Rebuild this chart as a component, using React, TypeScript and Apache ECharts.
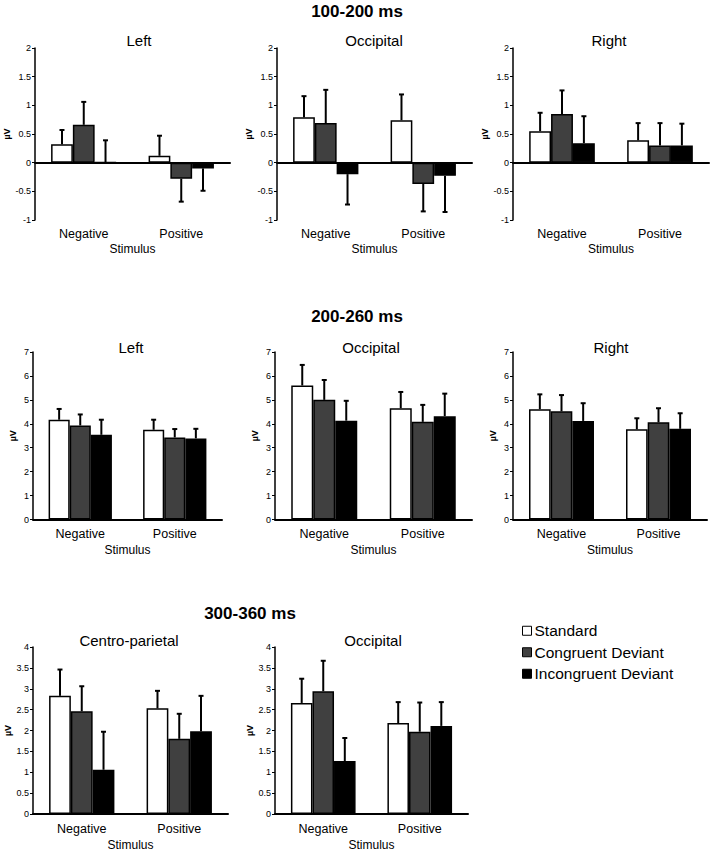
import React, { useEffect, useRef } from 'react';
import * as echarts from 'echarts';

// ---------- data ----------
const categories = ['Negative', 'Positive'];
const conditionNames = ['Standard', 'Congruent Deviant', 'Incongruent Deviant'];
const windowTitles = ['100-200 ms', '200-260 ms', '300-360 ms'];
const panelTitles = ['Left', 'Occipital', 'Right', 'Left', 'Occipital', 'Right', 'Centro-parietal', 'Occipital'];
const xAxisName = 'Stimulus';
const yAxisName = 'µV';

// y scales (min, max, interval) for each time window
const yScale100 = [-1, 2, 0.5];
const yScale200 = [0, 7, 1];
const yScale300 = [0, 4, 0.5];

// means [condition][category] and one-sided error bars (same layout)
const left100Means = [[0.32, 0.12], [0.66, -0.28], [0.01, -0.10]];
const left100Errors = [[0.25, 0.35], [0.40, 0.40], [0.38, 0.39]];
const occ100Means = [[0.79, 0.74], [0.69, -0.37], [-0.20, -0.23]];
const occ100Errors = [[0.37, 0.45], [0.58, 0.48], [0.53, 0.63]];
const right100Means = [[0.55, 0.39], [0.85, 0.30], [0.34, 0.30]];
const right100Errors = [[0.32, 0.30], [0.41, 0.39], [0.47, 0.38]];

const left200Means = [[4.17, 3.75], [3.93, 3.43], [3.54, 3.39]];
const left200Errors = [[0.45, 0.42], [0.46, 0.35], [0.63, 0.40]];
const occ200Means = [[5.60, 4.65], [5.00, 4.08], [4.13, 4.32]];
const occ200Errors = [[0.86, 0.68], [0.83, 0.71], [0.83, 0.94]];
const right200Means = [[4.61, 3.77], [4.52, 4.06], [4.12, 3.79]];
const right200Errors = [[0.62, 0.46], [0.68, 0.59], [0.74, 0.65]];

const cp300Means = [[2.83, 2.53], [2.46, 1.80], [1.06, 1.98]];
const cp300Errors = [[0.63, 0.42], [0.60, 0.60], [0.91, 0.85]];
const occ300Means = [[2.66, 2.18], [2.94, 1.97], [1.27, 2.11]];
const occ300Errors = [[0.58, 0.50], [0.73, 0.70], [0.55, 0.57]];

// ---------- styles / layout ----------
const FONT = '"Liberation Sans", Arial, Helvetica, sans-serif';
const conditionColors = ['#ffffff', '#404040', '#000000'];
const GAP_RATIO = 0.33;

const panelData = [
  { means: left100Means, errors: left100Errors, scale: yScale100 },
  { means: occ100Means, errors: occ100Errors, scale: yScale100 },
  { means: right100Means, errors: right100Errors, scale: yScale100 },
  { means: left200Means, errors: left200Errors, scale: yScale200 },
  { means: occ200Means, errors: occ200Errors, scale: yScale200 },
  { means: right200Means, errors: right200Errors, scale: yScale200 },
  { means: cp300Means, errors: cp300Errors, scale: yScale300 },
  { means: occ300Means, errors: occ300Errors, scale: yScale300 },
];

const panelLayout = [
  { left: 35, top: 48, width: 195, height: 172, title: [139, 40], nameGapY: 23, labelMargin: 7, nameGapX: 23 },
  { left: 277, top: 48, width: 195, height: 172, title: [374, 40], nameGapY: 23, labelMargin: 7, nameGapX: 23 },
  { left: 513, top: 48, width: 196, height: 172, title: [609, 40], nameGapY: 23, labelMargin: 7, nameGapX: 23 },
  { left: 33, top: 352, width: 189, height: 167.5, title: [131, 347], nameGapY: 16, labelMargin: 8, nameGapX: 24 },
  { left: 275, top: 352, width: 197, height: 167.5, title: [371, 347], nameGapY: 16, labelMargin: 8, nameGapX: 24 },
  { left: 513, top: 352, width: 194, height: 167.5, title: [611, 347], nameGapY: 16, labelMargin: 8, nameGapX: 24 },
  { left: 33, top: 647, width: 195, height: 167, title: [129, 640], nameGapY: 19, labelMargin: 8, nameGapX: 25 },
  { left: 275, top: 647, width: 193, height: 167, title: [373, 640], nameGapY: 19, labelMargin: 8, nameGapX: 25 },
];

const windowTitlePos = [[357, 11], [357, 316], [250, 613]];

function makeErrorRenderer(idx: number, nBars: number) {
  return (params: any, api: any) => {
    const cat = api.value(0);
    const v = api.value(1);
    const e = api.value(2);
    const band = api.size([1, 0])[0];
    const total = band * (1 - GAP_RATIO);
    const bw = total / nBars;
    const off = -total / 2 + bw * (idx + 0.5);
    const sign = v < 0 ? -1 : 1;
    const p0 = api.coord([cat, v]);
    const p1 = api.coord([cat, v + sign * e]);
    const x = p0[0] + off;
    const style = { stroke: '#000', lineWidth: 2 };
    return {
      type: 'group',
      children: [
        { type: 'line', shape: { x1: x, y1: p0[1], x2: x, y2: p1[1] }, style },
        { type: 'line', shape: { x1: x - 2.5, y1: p1[1], x2: x + 2.5, y2: p1[1] }, style },
      ],
    };
  };
}

function buildOption() {
  const grid: any[] = [];
  const xAxis: any[] = [];
  const yAxis: any[] = [];
  const series: any[] = [];
  const graphic: any[] = [];

  panelData.forEach((pd, i) => {
    const L = panelLayout[i];
    grid.push({ left: L.left, top: L.top, width: L.width, height: L.height, containLabel: false });
    // labelled axis at bottom
    xAxis.push({
      type: 'category', gridIndex: i, data: categories, position: 'bottom',
      axisLine: { show: false, onZero: false }, axisTick: { show: false },
      axisLabel: { color: '#000', fontSize: 12.5, fontFamily: FONT, margin: L.labelMargin },
      name: xAxisName, nameLocation: 'middle', nameGap: L.nameGapX,
      nameTextStyle: { color: '#000', fontSize: 12, fontFamily: FONT },
      splitLine: { show: false },
    });
    // zero line axis
    xAxis.push({
      type: 'category', gridIndex: i, data: categories, position: 'top',
      axisLine: { show: true, onZero: true, lineStyle: { color: '#000', width: 2 } },
      axisTick: { show: false }, axisLabel: { show: false }, splitLine: { show: false },
    });
    yAxis.push({
      type: 'value', gridIndex: i, min: pd.scale[0], max: pd.scale[1], interval: pd.scale[2],
      axisLine: { show: true, onZero: false, lineStyle: { color: '#000', width: 1.5 } },
      axisTick: { show: true, length: 3, lineStyle: { color: '#000', width: 1 } },
      axisLabel: { color: '#000', fontSize: 9, fontFamily: FONT, margin: 4 },
      splitLine: { show: false },
      name: yAxisName, nameLocation: 'middle', nameGap: L.nameGapY,
      nameTextStyle: { color: '#000', fontSize: 9, fontWeight: 'bold', fontFamily: FONT },
    });
    pd.means.forEach((vals, c) => {
      series.push({
        type: 'bar', name: conditionNames[c], xAxisIndex: 2 * i, yAxisIndex: i,
        data: vals, barCategoryGap: GAP_RATIO * 100 + '%', barGap: '0%',
        itemStyle: { color: conditionColors[c], borderColor: '#000', borderWidth: 1.5 },
        emphasis: { disabled: true }, z: 2,
      });
    });
    pd.means.forEach((vals, c) => {
      series.push({
        type: 'custom', name: conditionNames[c] + ' error', xAxisIndex: 2 * i, yAxisIndex: i,
        data: vals.map((v, k) => [k, v, pd.errors[c][k]]),
        encode: { x: 0, y: 1 },
        renderItem: makeErrorRenderer(c, pd.means.length),
        z: 3, silent: true,
      });
    });
    graphic.push({
      type: 'text', x: L.title[0], y: L.title[1],
      style: { text: panelTitles[i], fill: '#000', fontSize: 15, fontFamily: FONT, textAlign: 'center', textVerticalAlign: 'middle' },
    });
  });

  windowTitles.forEach((t, k) => {
    graphic.push({
      type: 'text', x: windowTitlePos[k][0], y: windowTitlePos[k][1],
      style: { text: t, fill: '#000', fontSize: 17, fontWeight: 'bold', fontFamily: FONT, textAlign: 'center', textVerticalAlign: 'middle' },
    });
  });

  return {
    animation: false,
    backgroundColor: '#ffffff',
    textStyle: { fontFamily: FONT },
    grid, xAxis, yAxis, series, graphic,
    legend: {
      data: conditionNames, orient: 'vertical', left: 517, top: 617,
      icon: 'rect', itemWidth: 9, itemHeight: 9, itemGap: 4,
      itemStyle: { borderColor: '#000', borderWidth: 1 },
      textStyle: { color: '#000', fontSize: 15.5, fontFamily: FONT, lineHeight: 17.5, padding: [0, 0, 0, -2] },
      selectedMode: false,
    },
  };
}

export default function App() {
  const ref = useRef<HTMLDivElement>(null);
  useEffect(() => {
    if (!ref.current) return;
    const chart = echarts.init(ref.current, undefined, { renderer: 'svg' });
    chart.setOption(buildOption() as any);
    return () => chart.dispose();
  }, []);
  return (
    <div
      ref={ref}
      style={{ position: 'absolute', left: 0, top: 0, width: 713, height: 853, background: '#fff' }}
    />
  );
}
